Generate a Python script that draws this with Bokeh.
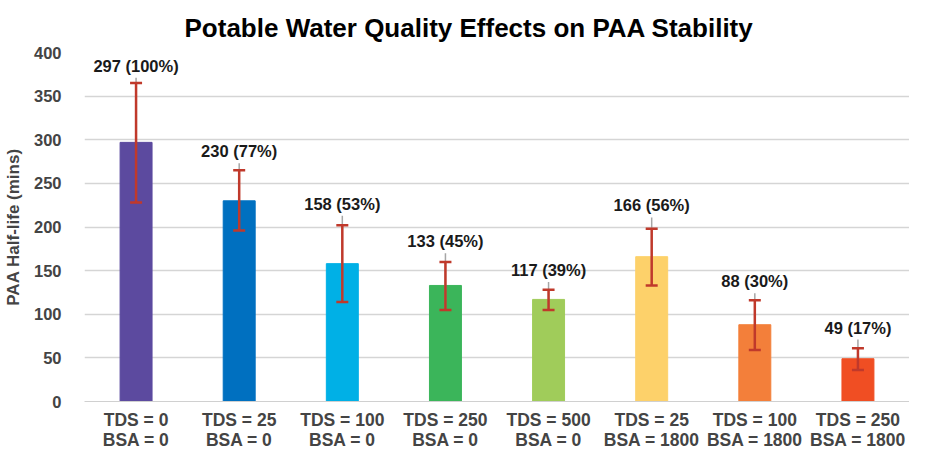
from bokeh.plotting import figure
from bokeh.models import ColumnDataSource, Whisker, TeeHead, Range1d, FixedTicker
from bokeh.embed import file_html
from bokeh.resources import INLINE
from bokeh.core.properties import value

categories = ["TDS = 0\nBSA = 0", "TDS = 25\nBSA = 0", "TDS = 100\nBSA = 0", "TDS = 250\nBSA = 0",
              "TDS = 500\nBSA = 0", "TDS = 25\nBSA = 1800", "TDS = 100\nBSA = 1800", "TDS = 250\nBSA = 1800"]
half_life = [297, 230, 158, 133, 117, 166, 88, 49]
percent = [100, 77, 53, 45, 39, 56, 30, 17]
red_upper = [365, 265, 202, 160, 128, 198, 116, 61]
red_lower = [228, 196, 114, 105, 105, 133, 59, 36]
grey_upper = [371, 273, 213, 170, 137, 211, 124, 71]
colors = ["#5C4A9F", "#0070C0", "#00B0E6", "#3BB55A", "#A0CC5A", "#FDD16A", "#F37F3A", "#F04E23"]
y_ticks = [0, 50, 100, 150, 200, 250, 300, 350, 400]

labels = [f"{v} ({p}%)" for v, p in zip(half_life, percent)]

src = ColumnDataSource(dict(cat=categories, val=half_life, col=colors, lab=labels,
                            ru=red_upper, rl=red_lower, gu=grey_upper))

p = figure(x_range=categories, width=909, height=452, output_backend="svg",
           toolbar_location=None, title="Potable Water Quality Effects on PAA Stability",
           min_border_left=74, min_border_right=0, min_border_top=47, min_border_bottom=0)
p.y_range = Range1d(0, 400)
p.outline_line_color = None

p.title.text_font = "Liberation Sans"
p.title.text_font_size = "26px"
p.title.text_font_style = "bold"
p.title.align = "left"
p.title.offset = 100
p.title.standoff = 20
p.title.text_color = "#000000"

p.vbar(x="cat", top="val", width=0.31, fill_color="col", line_color="col", source=src)

# grey error bars
p.segment(x0="cat", y0="rl", x1="cat", y1="gu", line_color="#A6A6A6", line_width=1.5, source=src)
# red error bars
wh = Whisker(base="cat", upper="ru", lower="rl", source=src, level="glyph",
             line_color="#C0392B", line_width=2.5,
             upper_head=TeeHead(size=12, line_color="#C0392B", line_width=2.5),
             lower_head=TeeHead(size=12, line_color="#C0392B", line_width=2.5))
p.add_layout(wh)

p.text(x="cat", y="gu", text="lab", source=src, text_align="center", text_baseline="bottom",
       y_offset=-3, text_font=value("Liberation Sans"), text_font_style="bold",
       text_font_size="16.5px", text_color="#1a1a1a")

p.yaxis.ticker = FixedTicker(ticks=y_ticks)
p.yaxis.axis_label = "PAA Half-life (mins)"
p.yaxis.axis_label_text_font = "Liberation Sans"
p.yaxis.axis_label_text_font_style = "bold"
p.yaxis.axis_label_text_font_size = "17px"
p.yaxis.axis_label_standoff = 8
p.yaxis.major_label_text_font = "Liberation Sans"
p.yaxis.major_label_text_font_style = "bold"
p.yaxis.major_label_text_font_size = "16.5px"
p.yaxis.major_label_standoff = 17
p.yaxis.axis_line_color = None
p.yaxis.major_tick_line_color = None
p.yaxis.minor_tick_line_color = None

p.xaxis.axis_label = None
p.xaxis.major_label_text_font = "Liberation Sans"
p.xaxis.major_label_text_font_style = "bold"
p.xaxis.major_label_text_font_size = "17.5px"
p.xaxis.major_label_text_line_height = 1.0
p.xaxis.major_label_standoff = 8
p.xaxis.major_tick_out = 0
p.xaxis.major_tick_in = 0
p.xaxis.axis_line_color = "#D0D0D0"
p.xaxis.major_tick_line_color = None
p.xaxis.minor_tick_line_color = None

p.xgrid.grid_line_color = None
p.ygrid.grid_line_color = "#D5D5D5"
p.ygrid.grid_line_width = 1.5
p.x_range.range_padding = 0

open("out.html", "w").write(file_html(p, INLINE))
